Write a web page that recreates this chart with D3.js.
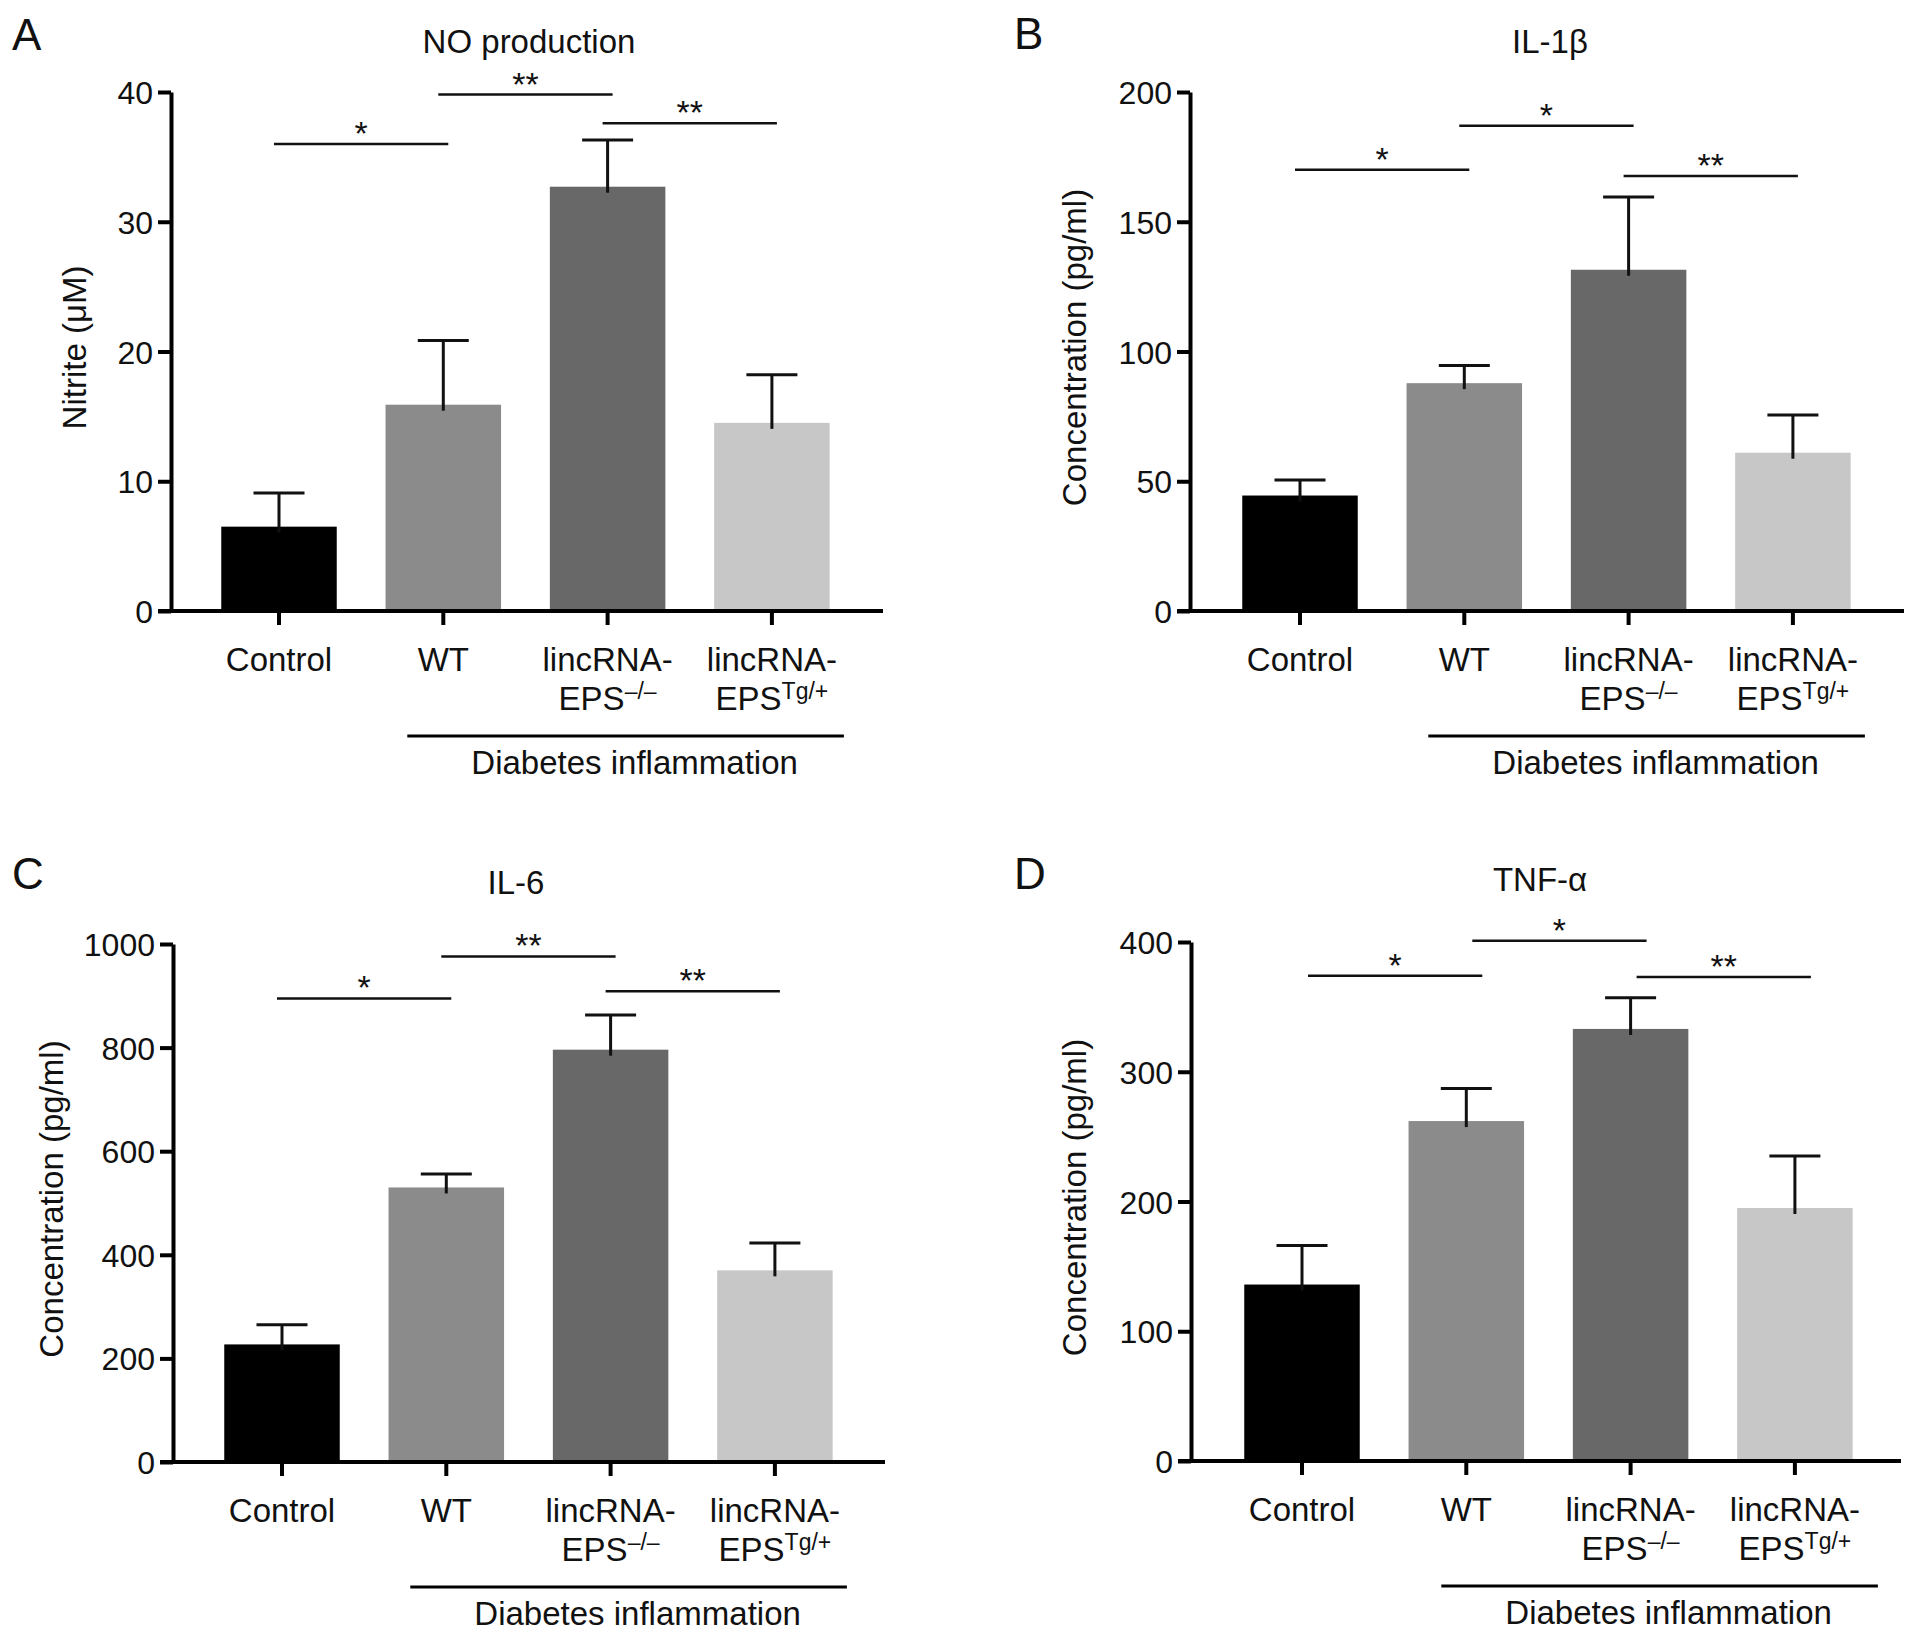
<!DOCTYPE html>
<html>
<head>
<meta charset="utf-8">
<script src="https://cdn.jsdelivr.net/npm/d3@7"></script>
<style>
  html, body { margin: 0; padding: 0; background: #fff; }
  svg { display: block; }
  text { font-family: "Liberation Sans", Arial, Helvetica, sans-serif; fill: #111; }
</style>
</head>
<body>
<script>
// ---------------- DATA ----------------
const categories = ["Control", "WT", "lincRNA-EPS-/-", "lincRNA-EPSTg/+"];
const labelTop = ["Control", "WT", "lincRNA-", "lincRNA-"];
const labelBottom = ["", "", "EPS", "EPS"];
const labelSup = ["", "", "\u2013/\u2013", "Tg/+"];
const barColors = ["#000000", "#8b8b8b", "#686868", "#c7c7c7"];
const groupLabel = "Diabetes inflammation";
const sigPairs = [[0, 1], [1, 2], [2, 3]];

// Panel A: NO production
const noMean = [6.5, 15.9, 32.7, 14.5];
const noSem = [2.6, 4.95, 3.6, 3.7];
const noTicks = [0, 10, 20, 30, 40];
const noSigY = [36.0, 39.8, 37.6];
const noSigText = ["*", "**", "**"];

// Panel B: IL-1beta
const il1bMean = [44.5, 87.8, 131.5, 61.0];
const il1bSem = [6.0, 6.8, 28.0, 14.5];
const il1bTicks = [0, 50, 100, 150, 200];
const il1bSigY = [170, 187, 167.6];
const il1bSigText = ["*", "*", "**"];

// Panel C: IL-6
const il6Mean = [227, 530, 796, 370];
const il6Sem = [38, 26, 67, 53];
const il6Ticks = [0, 200, 400, 600, 800, 1000];
const il6SigY = [895, 976, 909];
const il6SigText = ["*", "**", "**"];

// Panel D: TNF-alpha
const tnfMean = [136, 262, 333, 195];
const tnfSem = [30, 25, 24, 40];
const tnfTicks = [0, 100, 200, 300, 400];
const tnfSigY = [374, 401, 373];
const tnfSigText = ["*", "*", "**"];

// ---------------- LAYOUT ----------------
const W = 1913, H = 1643;
const panels = [
  { letter: "A", title: "NO production", yLabel: "Nitrite (\u03BCM)",
    mean: noMean, sem: noSem, ticks: noTicks, sigY: noSigY, sigText: noSigText,
    axisX: 171, y0: 611, yTop: 92, xEnd: 883, cx0: 279,
    letterX: 12, letterY: 50, titleX: 529, titleY: 53, yLabelX: 86, annoDx: 0 },
  { letter: "B", title: "IL-1\u03B2", yLabel: "Concentration (pg/ml)",
    mean: il1bMean, sem: il1bSem, ticks: il1bTicks, sigY: il1bSigY, sigText: il1bSigText,
    axisX: 1190, y0: 611, yTop: 92, xEnd: 1904, cx0: 1300,
    letterX: 1014, letterY: 49, titleX: 1550, titleY: 53, yLabelX: 1086, annoDx: 0 },
  { letter: "C", title: "IL-6", yLabel: "Concentration (pg/ml)",
    mean: il6Mean, sem: il6Sem, ticks: il6Ticks, sigY: il6SigY, sigText: il6SigText,
    axisX: 173, y0: 1462, yTop: 944, xEnd: 885, cx0: 282,
    letterX: 12, letterY: 889, titleX: 516, titleY: 894, yLabelX: 63, annoDx: 0 },
  { letter: "D", title: "TNF-\u03B1", yLabel: "Concentration (pg/ml)",
    mean: tnfMean, sem: tnfSem, ticks: tnfTicks, sigY: tnfSigY, sigText: tnfSigText,
    axisX: 1191, y0: 1461, yTop: 942, xEnd: 1901, cx0: 1302,
    letterX: 1014, letterY: 889, titleX: 1540, titleY: 891, yLabelX: 1086, annoDx: 11 }
];

const step = 164.3;
const padInner = 0.297;
const axisW = 4;
const tickLenY = 13;
const tickLenX = 14;

const svg = d3.select("body").append("svg")
  .attr("width", W).attr("height", H)
  .attr("viewBox", `0 0 ${W} ${H}`);
svg.append("rect").attr("width", W).attr("height", H).attr("fill", "#fff");

panels.forEach(p => {
  const g = svg.append("g");
  const x = d3.scaleBand()
    .domain(categories)
    .range([p.cx0 - step / 2, p.cx0 + 3.5 * step])
    .paddingInner(padInner)
    .paddingOuter(padInner / 2);
  const yMax = p.ticks[p.ticks.length - 1];
  const y = d3.scaleLinear().domain([0, yMax]).range([p.y0, p.yTop]);
  const cx = c => x(c) + x.bandwidth() / 2;

  // panel letter
  g.append("text").attr("x", p.letterX).attr("y", p.letterY)
    .attr("font-size", 44).text(p.letter);

  // title
  g.append("text").attr("x", p.titleX).attr("y", p.titleY)
    .attr("text-anchor", "middle").attr("font-size", 33).text(p.title);

  // y label
  g.append("text")
    .attr("transform", `translate(${p.yLabelX},${(p.y0 + p.yTop) / 2 - 4}) rotate(-90)`)
    .attr("text-anchor", "middle").attr("font-size", 33).text(p.yLabel);

  // bars
  g.selectAll("rect.bar").data(categories).enter().append("rect")
    .attr("class", "bar")
    .attr("x", c => x(c))
    .attr("width", x.bandwidth())
    .attr("y", (c, i) => y(p.mean[i]))
    .attr("height", (c, i) => y(0) - y(p.mean[i]))
    .attr("fill", (c, i) => barColors[i]);

  // error bars
  const capW = 51;
  categories.forEach((c, i) => {
    const top = y(p.mean[i] + p.sem[i]);
    g.append("line")
      .attr("x1", cx(c)).attr("x2", cx(c))
      .attr("y1", y(p.mean[i]) + 6).attr("y2", top)
      .attr("stroke", "#111").attr("stroke-width", 3);
    g.append("line")
      .attr("x1", cx(c) - capW / 2).attr("x2", cx(c) + capW / 2)
      .attr("y1", top).attr("y2", top)
      .attr("stroke", "#111").attr("stroke-width", 3);
  });

  // y axis
  const yAxis = d3.axisLeft(y).tickValues(p.ticks).tickSize(tickLenY)
    .tickSizeOuter(0).tickPadding(5).tickFormat(d3.format("d"));
  const ya = g.append("g").attr("transform", `translate(${p.axisX},0)`).call(yAxis);
  ya.select(".domain").attr("stroke", "#000").attr("stroke-width", axisW);
  ya.selectAll(".tick line").attr("stroke", "#000").attr("stroke-width", axisW);
  ya.selectAll(".tick text").attr("font-size", 32)
    .attr("font-family", "Liberation Sans, Arial, sans-serif").attr("fill", "#111")
    .attr("dy", "0.36em");

  // x axis (ticks via d3 axis, line drawn across)
  const xAxis = d3.axisBottom(x).tickSize(tickLenX).tickSizeOuter(0).tickFormat("");
  const xa = g.append("g").attr("transform", `translate(0,${p.y0})`).call(xAxis);
  xa.select(".domain").remove();
  xa.selectAll(".tick line").attr("stroke", "#000").attr("stroke-width", axisW);
  g.append("line")
    .attr("x1", p.axisX - tickLenY).attr("x2", p.xEnd)
    .attr("y1", p.y0).attr("y2", p.y0)
    .attr("stroke", "#000").attr("stroke-width", axisW);

  // category labels
  categories.forEach((c, i) => {
    g.append("text").attr("x", cx(c)).attr("y", p.y0 + 60)
      .attr("text-anchor", "middle").attr("font-size", 33).text(labelTop[i]);
    if (labelBottom[i]) {
      const t = g.append("text").attr("x", cx(c)).attr("y", p.y0 + 99)
        .attr("text-anchor", "middle").attr("font-size", 33);
      t.append("tspan").text(labelBottom[i]);
      t.append("tspan").attr("font-size", 23).attr("dy", -11).text(labelSup[i]);
    }
  });

  // group line + label
  const gx1 = cx(categories[1]) - 36 + p.annoDx;
  const gx2 = cx(categories[3]) + 72 + p.annoDx;
  g.append("line").attr("x1", gx1).attr("x2", gx2)
    .attr("y1", p.y0 + 125).attr("y2", p.y0 + 125)
    .attr("stroke", "#000").attr("stroke-width", 3);
  g.append("text").attr("x", (gx1 + gx2) / 2 + 9).attr("y", p.y0 + 163)
    .attr("text-anchor", "middle").attr("font-size", 33).text(groupLabel);

  // significance lines
  sigPairs.forEach((pair, k) => {
    const x1 = cx(categories[pair[0]]) - 5 + p.annoDx;
    const x2 = cx(categories[pair[1]]) + 5 + p.annoDx;
    const yy = y(p.sigY[k]);
    g.append("line").attr("x1", x1).attr("x2", x2)
      .attr("y1", yy).attr("y2", yy)
      .attr("stroke", "#111").attr("stroke-width", 2.5);
    g.append("text").attr("x", (x1 + x2) / 2).attr("y", yy + 1)
      .attr("text-anchor", "middle").attr("font-size", 34).text(p.sigText[k]);
  });
});
</script>
</body>
</html>
